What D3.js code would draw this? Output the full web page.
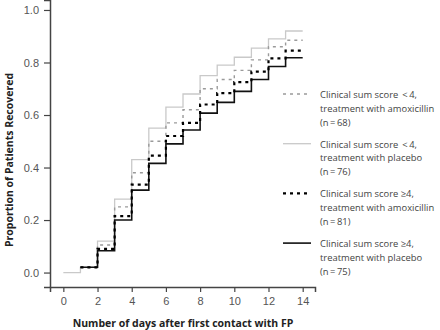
<!DOCTYPE html>
<html>
<head>
<meta charset="utf-8">
<script src="https://cdn.jsdelivr.net/npm/d3@7"></script>
<style>
  body { margin: 0; background: #fff; }
  svg { display: block; }
</style>
</head>
<body>
<div id="chart"></div>
<script>
const width = 440, height = 330;

// value held from day i to day i+1 (null = curve not started yet)
const dayStarts = [0, 1, 2, 3, 4, 5, 6, 7, 8, 9, 10, 11, 12, 13];
const lowPlacebo = [0, 0.02, 0.12, 0.28, 0.43, 0.55, 0.63, 0.68, 0.75, 0.79, 0.82, 0.855, 0.89, 0.92];
const lowAmox = [null, 0.02, 0.105, 0.25, 0.38, 0.50, 0.57, 0.62, 0.70, 0.735, 0.77, 0.81, 0.86, 0.885];
const highAmox = [null, 0.02, 0.09, 0.215, 0.335, 0.445, 0.52, 0.57, 0.64, 0.683, 0.725, 0.765, 0.816, 0.845];
const highPlacebo = [null, 0.02, 0.083, 0.20, 0.314, 0.416, 0.49, 0.543, 0.607, 0.648, 0.69, 0.735, 0.785, 0.818];
const lastDay = 14;

const xTicks = [0, 2, 4, 6, 8, 10, 12, 14];
const yTicks = [0, 0.2, 0.4, 0.6, 0.8, 1.0];

const legendLabels = [
    ["Clinical sum score \u2009<\u20094,", "treatment with amoxicillin", "(n\u2009=\u200968)"],
    ["Clinical sum score \u2009<\u20094,", "treatment with placebo", "(n\u2009=\u200976)"],
    ["Clinical sum score \u22654,", "treatment with amoxicillin", "(n\u2009=\u200981)"],
    ["Clinical sum score \u22654,", "treatment with placebo", "(n\u2009=\u200975)"]
];

const series = [
    { values: lowPlacebo, color: "#c9c9c9", width: 1.3, dash: null },
    { values: lowAmox, color: "#9a9a9a", width: 1.4, dash: "3,4" },
    { values: highPlacebo, color: "#111", width: 1.6, dash: null },
    { values: highAmox, color: "#000", width: 2.2, dash: "3,4" }
];
// legend order as in the figure
const legendStyle = [series[1], series[0], series[3], series[2]];

const x = d3.scaleLinear().domain([-0.78, 14.72]).range([50, 315]);
const y = d3.scaleLinear().domain([-0.055, 1.038]).range([287, 0]);

const svg = d3.select("#chart")
    .append("svg")
    .attr("width", width)
    .attr("height", height)
    .style("font-family", "'Open Sans', sans-serif");

// Axes
const xAxis = svg.append("g")
    .attr("transform", "translate(0,287)")
    .call(d3.axisBottom(x).tickValues(xTicks).tickSizeOuter(0).tickSize(5).tickPadding(5));

const yAxis = svg.append("g")
    .attr("transform", "translate(50,0)")
    .call(d3.axisLeft(y).tickValues(yTicks).tickFormat(d3.format(".1f")).tickSizeOuter(0).tickSize(6).tickPadding(5));

[xAxis, yAxis].forEach(a => {
    a.select(".domain").attr("stroke", "#444").attr("stroke-width", 1.5);
    a.selectAll(".tick line").attr("stroke", "#444").attr("stroke-width", 1.2);
    a.selectAll(".tick text").attr("fill", "#555").style("font-size", "11px");
});

// Axis titles
svg.append("text")
    .attr("x", 183)
    .attr("y", 327)
    .attr("text-anchor", "middle")
    .style("font-size", "10.5px")
    .style("font-weight", "bold")
    .attr("fill", "#222")
    .text("Number of days after first contact with FP");

svg.append("text")
    .attr("transform", "translate(13,160) rotate(-90)")
    .attr("text-anchor", "middle")
    .style("font-size", "10.5px")
    .style("font-weight", "bold")
    .attr("fill", "#222")
    .text("Proportion of Patients Recovered");

// Step curves
const line = d3.line()
    .x(d => x(d[0]))
    .y(d => y(d[1]))
    .curve(d3.curveStepAfter);

series.forEach(s => {
    const pts = [];
    dayStarts.forEach((d, i) => {
        if (s.values[i] !== null) pts.push([d, s.values[i]]);
    });
    pts.push([lastDay, s.values[s.values.length - 1]]);
    svg.append("path")
        .datum(pts)
        .attr("d", line)
        .attr("fill", "none")
        .attr("stroke", s.color)
        .attr("stroke-width", s.width)
        .attr("stroke-dasharray", s.dash);
});

// Legend
const legend = svg.append("g").attr("transform", "translate(283,94)");

legendLabels.forEach((lines, i) => {
    const g = legend.append("g").attr("transform", `translate(0, ${i * 49.7})`);
    const st = legendStyle[i];
    g.append("line")
        .attr("x1", 0).attr("x2", 28)
        .attr("y1", 0).attr("y2", 0)
        .attr("stroke", st.color)
        .attr("stroke-width", st.width)
        .attr("stroke-dasharray", st.dash);
    lines.forEach((t, j) => {
        g.append("text")
            .attr("x", 37)
            .attr("y", 4 + j * 13.8)
            .style("font-size", "9.4px")
            .attr("fill", "#444")
            .text(t);
    });
});
</script>
</body>
</html>
